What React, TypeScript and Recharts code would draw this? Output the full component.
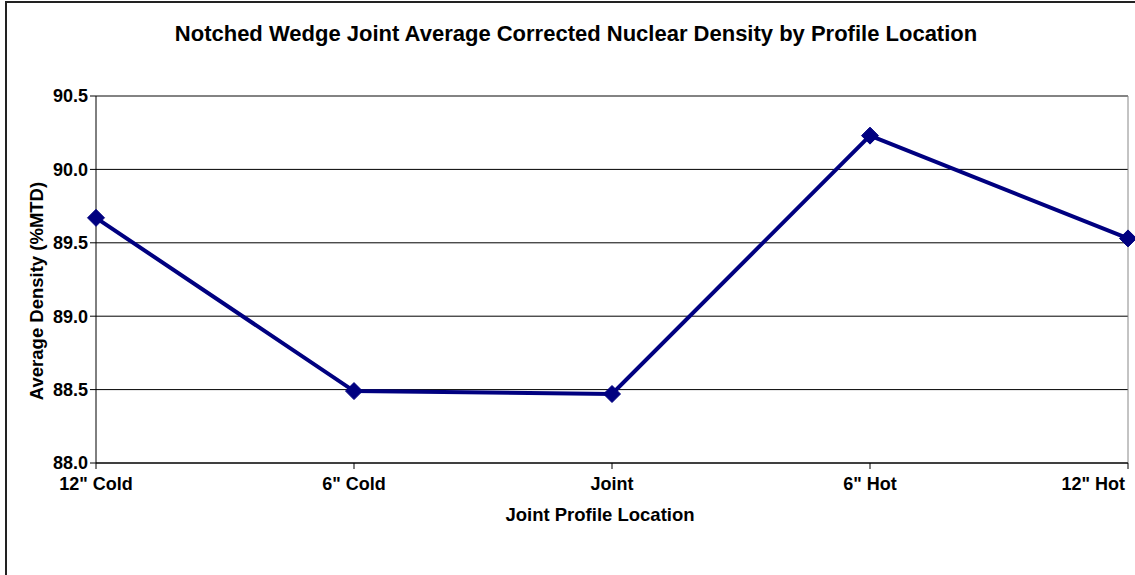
import React from "react";
import { LineChart, Line, XAxis, YAxis, CartesianGrid, ReferenceLine } from "recharts";

const categories = ['12" Cold', '6" Cold', "Joint", '6" Hot', '12" Hot'];
const densityValues = [89.67, 88.49, 88.47, 90.23, 89.53];
const yTicks = [88.0, 88.5, 89.0, 89.5, 90.0, 90.5];

const data = categories.map((c, i) => ({ name: c, value: densityValues[i] }));

const FONT = "'Liberation Sans', Arial, sans-serif";
const NAVY = "#000080";

const Diamond = (props: any) => {
  const { cx, cy } = props;
  if (cx == null || cy == null) return null;
  const r = 8.5;
  return (
    <polygon
      points={`${cx},${cy - r} ${cx + r},${cy} ${cx},${cy + r} ${cx - r},${cy}`}
      fill={NAVY}
      stroke={NAVY}
      strokeWidth={1}
    />
  );
};

const XTick = (props: any) => {
  const { x, y, payload, index } = props;
  const last = index === categories.length - 1;
  return (
    <text
      x={last ? x - 3 : x}
      y={y + 19}
      textAnchor={last ? "end" : "middle"}
      fontFamily={FONT}
      fontWeight="bold"
      fontSize={18}
      fill="#000"
    >
      {payload.value}
    </text>
  );
};

export default function App() {
  return (
    <div style={{ position: "absolute", left: 0, top: 0, width: 1135, height: 575, background: "#fff", overflow: "hidden", fontFamily: FONT }}>
      <div style={{ position: "absolute", left: 5, top: 1, width: 1200, height: 700, borderLeft: "2px solid #222", borderTop: "2px solid #222" }} />
      <div style={{ position: "absolute", left: 0, width: 1152, top: 21, textAlign: "center", fontSize: 22, fontWeight: "bold", color: "#000", whiteSpace: "nowrap" }}>
        Notched Wedge Joint Average Corrected Nuclear Density by Profile Location
      </div>
      <div style={{ position: "absolute", left: 400, width: 400, top: 504, textAlign: "center", fontSize: 18.5, fontWeight: "bold", color: "#000" }}>
        Joint Profile Location
      </div>
      <div style={{ position: "absolute", left: 37, top: 291, width: 0, height: 0 }}>
        <div style={{ position: "absolute", left: -150, top: -11, width: 300, textAlign: "center", transform: "rotate(-90deg)", fontSize: 18.5, fontWeight: "bold", color: "#000", whiteSpace: "nowrap" }}>
          Average Density (%MTD)
        </div>
      </div>
      <div style={{ position: "absolute", left: 0, top: 0 }}>
        <LineChart width={1135} height={575} data={data} margin={{ top: 96, right: 7, left: 0, bottom: 0 }}>
          <CartesianGrid vertical={false} stroke="#000" strokeWidth={1} />
          <XAxis
            dataKey="name"
            height={112}
            axisLine={{ stroke: "#000", strokeWidth: 1 }}
            tickLine={{ stroke: "#000" }}
            tickSize={6}
            tick={<XTick />}
            interval={0}
          />
          <YAxis
            width={96}
            domain={[88, 90.5]}
            ticks={yTicks}
            interval={0}
            tickFormatter={(v: number) => v.toFixed(1)}
            axisLine={{ stroke: "#000", strokeWidth: 1 }}
            tickLine={{ stroke: "#000" }}
            tickSize={6}
            tickMargin={2}
            tick={{ fill: "#000", fontFamily: FONT, fontWeight: "bold", fontSize: 18 }}
            allowDataOverflow
          />
          <ReferenceLine y={90.5} stroke="#888" strokeWidth={1} />
          <ReferenceLine x={categories[categories.length - 1]} stroke="#888" strokeWidth={1} />
          <Line
            type="linear"
            dataKey="value"
            stroke={NAVY}
            strokeWidth={4}
            dot={<Diamond />}
            activeDot={false}
            isAnimationActive={false}
          />
        </LineChart>
      </div>
    </div>
  );
}
